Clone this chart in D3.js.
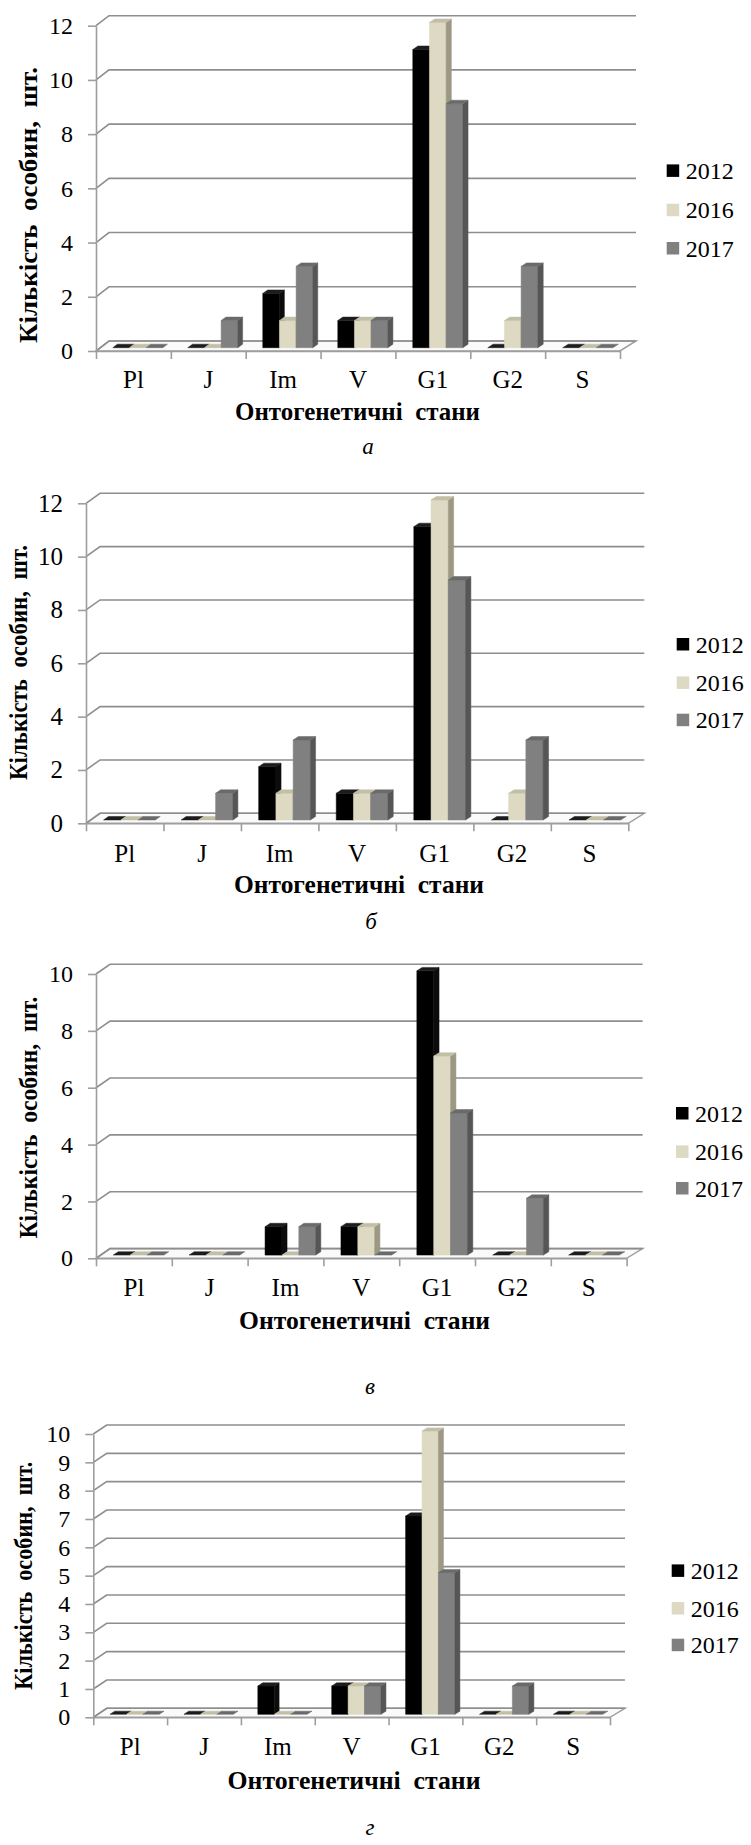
<!DOCTYPE html>
<html>
<head>
<meta charset="utf-8">
<script src="https://cdn.jsdelivr.net/npm/d3@7"></script>
<style>
  html, body { margin: 0; padding: 0; background: #fff; }
  svg { display: block; }
  text { font-family: "Liberation Serif", "Times New Roman", serif; fill: #000; }
</style>
</head>
<body>
<svg id="fig" width="751" height="1845"></svg>
<script>
// Ontogenetic states and survey years
const categories = ["Pl", "J", "Im", "V", "G1", "G2", "S"];
const years = ["2012", "2016", "2017"];

// Panel а
const a2012 = [0, 0, 2, 1, 11, 0, 0];
const a2016 = [0, 0, 1, 1, 12, 1, 0];
const a2017 = [0, 1, 3, 1, 9, 3, 0];
// Panel б
const b2012 = [0, 0, 2, 1, 11, 0, 0];
const b2016 = [0, 0, 1, 1, 12, 1, 0];
const b2017 = [0, 1, 3, 1, 9, 3, 0];
// Panel в
const v2012 = [0, 0, 1, 1, 10, 0, 0];
const v2016 = [0, 0, 0, 1, 7, 0, 0];
const v2017 = [0, 0, 1, 0, 5, 2, 0];
// Panel г
const g2012 = [0, 0, 1, 1, 7, 0, 0];
const g2016 = [0, 0, 0, 1, 10, 0, 0];
const g2017 = [0, 0, 0, 1, 5, 1, 0];

// Y tick labels
const ticksEven12 = [0, 2, 4, 6, 8, 10, 12];
const ticksEven10 = [0, 2, 4, 6, 8, 10];
const ticksUnit10 = [0, 1, 2, 3, 4, 5, 6, 7, 8, 9, 10];

const yTitleText = "Кількість  особин,  шт.";
const xTitleText = "Онтогенетичні  стани";
const serif = '"Liberation Serif", "Times New Roman", serif';

// Series colours: front face, top face, side face
const faceColors = {
  "2012": { front: "#000000", top: "#1c1c1c", side: "#0c0c0c" },
  "2016": { front: "#DDD9C3", top: "#C3BFA7", side: "#9C9884" },
  "2017": { front: "#808080", top: "#6A6A6A", side: "#565656" }
};

// Panel layout
const panels = [
  { series: [a2012, a2016, a2017], ticks: ticksEven12, max: 12,
    x0: 96, x1: 620, y0: 351, yTop: 25.7, dxL: 13, dxR: 16, dy: -10,
    tickFont: 24, catFont: 25, catBase: 388.3,
    legX: 666.7, legY: [170.7, 210, 248.3],
    xTitle: { x: 357.5, y: 420, len: 245 },
    yTitle: { x: 36.7, y: 205, len: 276 },
    caption: { x: 368, y: 454, t: "а" } },
  { series: [b2012, b2016, b2017], ticks: ticksEven12, max: 12,
    x0: 86, x1: 628.3, y0: 823.3, yTop: 503.3, dxL: 14, dxR: 16, dy: -10,
    tickFont: 25, catFont: 25, catBase: 861.6,
    legX: 676.7, legY: [644.3, 682.7, 720],
    xTitle: { x: 359, y: 893, len: 250 },
    yTitle: { x: 26.7, y: 662.5, len: 235 },
    caption: { x: 371, y: 929, t: "б" } },
  { series: [v2012, v2016, v2017], ticks: ticksEven10, max: 10,
    x0: 96, x1: 626.6, y0: 1258.3, yTop: 974, dxL: 14, dxR: 16, dy: -9.7,
    tickFont: 24, catFont: 25, catBase: 1296.5,
    legX: 676, legY: [1113.3, 1151.7, 1188.3],
    xTitle: { x: 364.6, y: 1329, len: 251 },
    yTitle: { x: 36.7, y: 1117.5, len: 242 },
    caption: { x: 370, y: 1394, t: "в" } },
  { series: [g2012, g2016, g2017], ticks: ticksUnit10, max: 10,
    x0: 93.3, x1: 610, y0: 1717.3, yTop: 1434, dxL: 13.4, dxR: 15, dy: -9,
    tickFont: 24, catFont: 25, catBase: 1755,
    legX: 671.7, legY: [1570.7, 1608.3, 1645],
    xTitle: { x: 354, y: 1789, len: 253 },
    yTitle: { x: 31.7, y: 1575.8, len: 228 },
    caption: { x: 370, y: 1835, t: "г" } }
];

const gridColor = "#8E8E8E";
const axisColor = "#9E9E9E";
const svg = d3.select("#fig");

panels.forEach(p => {
  const g = svg.append("g");

  const x = d3.scaleBand().domain(categories).range([p.x0, p.x1]).padding(0);
  const xs = d3.scaleBand().domain(years).range([0, x.bandwidth()])
    .paddingInner(0).paddingOuter(0.75);
  const y = d3.scaleLinear().domain([0, p.max]).range([p.y0, p.yTop]);

  // depth offset grows slightly towards the right (perspective)
  const dxAt = px => p.dxL + (p.dxR - p.dxL) * (px - p.x0) / (p.x1 - p.x0);
  const proj = (px, v, z) => [px + z * dxAt(px), y(v) + z * p.dy];
  const poly = pts => pts.map(q => q.join(",")).join(" ");

  // floor
  g.append("polygon")
    .attr("points", poly([proj(p.x0, 0, 0), proj(p.x1, 0, 0), proj(p.x1, 0, 1), proj(p.x0, 0, 1)]))
    .attr("fill", "#FAFAFA").attr("stroke", axisColor).attr("stroke-width", 1.5);

  // gridlines: side wall segment + back wall line
  const grid = g.append("g").attr("fill", "none").attr("stroke", gridColor).attr("stroke-width", 1.6);
  grid.selectAll("polyline").data(p.ticks).join("polyline")
    .attr("points", v => poly([proj(p.x0, v, 0), proj(p.x0, v, 1), proj(p.x1, v, 1)]));

  // y axis on the front plane
  const yAxis = d3.axisLeft(y).tickValues(p.ticks).tickSize(8).tickSizeOuter(0).tickPadding(15)
    .tickFormat(d3.format("d"));
  const ya = g.append("g").attr("transform", `translate(${p.x0},0)`).call(yAxis)
    .attr("font-family", serif).attr("font-size", p.tickFont);
  ya.select(".domain").attr("stroke", axisColor).attr("stroke-width", 1.6);
  ya.selectAll(".tick line").attr("stroke", axisColor).attr("stroke-width", 1.6);
  ya.selectAll(".tick text").attr("font-size", p.tickFont).attr("font-family", serif).attr("fill", "#000");

  // x axis: boundary ticks
  const edge = d3.scaleLinear().domain([0, categories.length]).range([p.x0, p.x1]);
  const xTickAxis = d3.axisBottom(edge).tickValues(d3.range(categories.length + 1))
    .tickSize(8).tickSizeOuter(0).tickFormat("");
  const xb = g.append("g").attr("transform", `translate(0,${p.y0})`).call(xTickAxis);
  xb.select(".domain").attr("stroke", axisColor).attr("stroke-width", 1.6);
  xb.selectAll(".tick line").attr("stroke", axisColor).attr("stroke-width", 1.6);

  // x axis: category labels
  const xLab = g.append("g").attr("transform", `translate(0,${p.y0})`)
    .call(d3.axisBottom(x).tickSize(0))
    .attr("font-family", serif).attr("font-size", p.catFont);
  xLab.select(".domain").remove();
  xLab.selectAll(".tick text").attr("y", p.catBase - p.y0).attr("dy", 0)
    .attr("font-size", p.catFont).attr("font-family", serif).attr("fill", "#000");

  // 3D columns, drawn left to right so each column hides its neighbour's side face
  const z0 = 0.33, z1 = 0.68;
  const bars = [];
  categories.forEach((c, ci) => {
    years.forEach((yr, si) => {
      bars.push({ c, yr, v: p.series[si][ci] });
    });
  });
  const bg = g.append("g");
  bars.forEach(b => {
    const xl = x(b.c) + xs(b.yr);
    const xr = xl + xs.bandwidth();
    const col = faceColors[b.yr];
    const bar = bg.append("g");
    if (b.v > 0) {
      bar.append("polygon")
        .attr("points", poly([proj(xl, 0, z0), proj(xr, 0, z0), proj(xr, b.v, z0), proj(xl, b.v, z0)]))
        .attr("fill", col.front).attr("stroke", col.front).attr("stroke-width", 0.5);
      bar.append("polygon")
        .attr("points", poly([proj(xr, 0, z0), proj(xr, 0, z1), proj(xr, b.v, z1), proj(xr, b.v, z0)]))
        .attr("fill", col.side).attr("stroke", col.side).attr("stroke-width", 0.5);
    }
    bar.append("polygon")
      .attr("points", poly([proj(xl, b.v, z0), proj(xr, b.v, z0), proj(xr, b.v, z1), proj(xl, b.v, z1)]))
      .attr("fill", col.top).attr("stroke", col.top).attr("stroke-width", 0.5);
  });

  // legend
  const leg = g.append("g");
  const li = leg.selectAll("g").data(years).join("g")
    .attr("transform", (d, i) => `translate(${p.legX},${p.legY[i]})`);
  li.append("rect").attr("x", 0).attr("y", -6.3).attr("width", 12.5).attr("height", 12.5)
    .attr("fill", d => faceColors[d].front);
  li.append("text").attr("x", 19).attr("y", 8.2).attr("font-size", 24)
    .attr("font-family", serif).text(d => d);

  // axis titles
  g.append("text")
    .attr("transform", `translate(${p.yTitle.x},${p.yTitle.y}) rotate(-90)`)
    .attr("text-anchor", "middle").attr("font-weight", "bold").attr("font-size", 26)
    .attr("font-family", serif)
    .attr("textLength", p.yTitle.len).attr("lengthAdjust", "spacingAndGlyphs")
    .style("white-space", "pre")
    .text(yTitleText);
  g.append("text")
    .attr("x", p.xTitle.x).attr("y", p.xTitle.y)
    .attr("text-anchor", "middle").attr("font-weight", "bold").attr("font-size", 26)
    .attr("font-family", serif)
    .attr("textLength", p.xTitle.len).attr("lengthAdjust", "spacingAndGlyphs")
    .style("white-space", "pre")
    .text(xTitleText);

  // panel caption
  g.append("text").attr("x", p.caption.x).attr("y", p.caption.y)
    .attr("text-anchor", "middle").attr("font-style", "italic").attr("font-size", 23)
    .attr("font-family", serif)
    .text(p.caption.t);
});
</script>
</body>
</html>
